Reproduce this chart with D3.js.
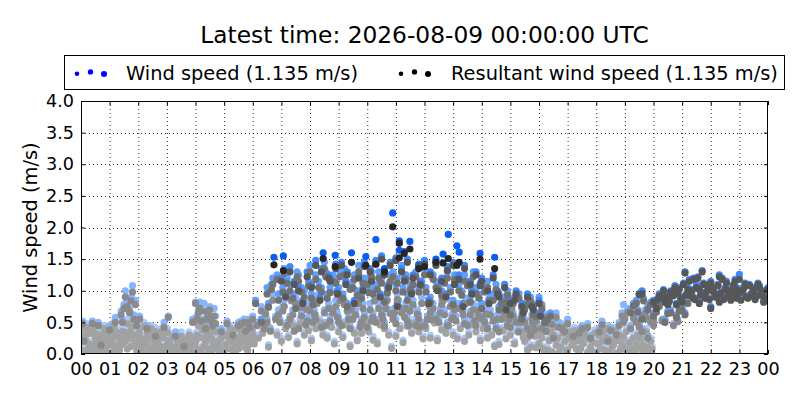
<!DOCTYPE html>
<html><head><meta charset="utf-8">
<script src="https://cdn.jsdelivr.net/npm/d3@7"></script>
<style>body{margin:0;background:#fff}svg{display:block;font-family:"DejaVu Sans",sans-serif}</style>
</head><body><svg id="c" width="800" height="400"></svg>
<script>
// ---- data: each point is [hour, wind speed, resultant wind speed] ----
const hourTicks = d3.range(0, 25);
const hourLabels = ["00","01","02","03","04","05","06","07","08","09","10","11","12","13","14","15","16","17","18","19","20","21","22","23","00"];
const speedTicks = [0,0.5,1,1.5,2,2.5,3,3.5,4];
const titleText = "Latest time: 2026-08-09 00:00:00 UTC";
const seriesNames = ["Wind speed (1.135 m/s)", "Resultant wind speed (1.135 m/s)"];

const dayOldest = [
[0.05,0.45,0.40],[0.15,0.30,0.25],[0.25,0.12,0.08],[0.35,0.38,0.32],[0.45,0.20,0.15],[0.55,0.05,0.02],[0.65,0.28,0.22],[0.75,0.35,0.30],[0.85,0.15,0.10],[0.95,0.40,0.33],
[1.05,0.22,0.18],[1.15,0.50,0.45],[1.25,0.32,0.28],[1.35,0.10,0.06],[1.45,0.42,0.36],[1.55,0.25,0.20],[1.65,0.55,0.48],[1.75,0.18,0.12],[1.85,0.35,0.30],[1.95,0.08,0.04],
[2.05,0.40,0.35],[2.15,0.15,0.10],[2.25,0.30,0.24],[2.35,0.05,0.02],[2.45,0.45,0.40],[2.55,0.22,0.16],[2.65,0.10,0.05],[2.75,0.30,0.25],[2.85,0.02,0.01],[2.95,0.18,0.12],
[3.05,0.25,0.20],[3.15,0.08,0.04],[3.25,0.15,0.10],[3.35,0.30,0.25],[3.45,0.05,0.02],[3.55,0.20,0.15],[3.65,0.12,0.08],[3.75,0.28,0.22],[3.85,0.03,0.01],[3.95,0.18,0.12],
[4.05,0.35,0.30],[4.15,0.10,0.06],[4.25,0.42,0.38],[4.35,0.22,0.18],[4.45,0.05,0.02],[4.55,0.30,0.25],[4.65,0.15,0.10],[4.75,0.25,0.20],[4.85,0.08,0.04],[4.95,0.32,0.28],
[5.05,0.20,0.15],[5.15,0.38,0.32],[5.25,0.12,0.08],[5.35,0.28,0.24],[5.45,0.45,0.40],[5.55,0.22,0.18],[5.65,0.35,0.30],[5.75,0.15,0.10],[5.85,0.40,0.35],[5.95,0.30,0.25],
[6.2,0.30,0.25],[6.6,0.42,0.38],[7.0,0.25,0.20],[7.4,0.50,0.45],[7.8,0.35,0.30],[8.2,0.45,0.40],[8.6,0.30,0.25],[9.0,0.40,0.35],[9.4,0.15,0.12],[9.8,0.38,0.33],
[10.2,0.28,0.22],[10.6,0.45,0.40],[11.0,0.32,0.28],[11.4,0.50,0.44],[11.8,0.40,0.35],[12.2,0.30,0.25],[12.6,0.44,0.38],[13.0,0.35,0.30],[13.4,0.25,0.20],[13.8,0.40,0.35],
[14.2,0.30,0.25],[14.6,0.20,0.15],[15.0,0.35,0.30],
[15.5,0.25,0.20],[15.7,0.40,0.35],[15.9,0.15,0.10],[16.1,0.30,0.25],[16.3,0.10,0.06],[16.5,0.35,0.30],[16.7,0.05,0.02],[16.9,0.25,0.20],[17.1,0.40,0.35],[17.3,0.12,0.08],
[17.5,0.30,0.25],[17.7,0.05,0.02],[17.9,0.22,0.18],[18.1,0.35,0.30],[18.3,0.10,0.06],[18.5,0.28,0.22],[18.7,0.02,0.01],[18.9,0.20,0.15],[19.1,0.08,0.04],[19.3,0.30,0.25],
[19.5,0.15,0.10],[19.7,0.05,0.02],[19.9,0.25,0.20],
[0.02,0.10,0.06],[0.2,0.48,0.42],[0.3,0.02,0.01],[0.5,0.30,0.26],[0.6,0.15,0.10],[0.8,0.45,0.40],[0.9,0.25,0.20],[1.1,0.05,0.02],[1.3,0.20,0.16],[1.5,0.30,0.25],
[1.7,0.40,0.35],[1.9,0.22,0.18],[2.1,0.25,0.20],[2.2,0.50,0.44],[2.4,0.12,0.08],[2.5,0.35,0.30],[2.7,0.20,0.15],[2.8,0.40,0.35],[3.0,0.10,0.06],[3.1,0.28,0.22],
[3.2,0.02,0.01],[3.4,0.20,0.16],[3.5,0.35,0.28],[3.7,0.06,0.03],[3.8,0.22,0.18],[4.0,0.15,0.10],[4.1,0.50,0.45],[4.2,0.02,0.01],[4.4,0.38,0.32],[4.5,0.12,0.08],
[4.6,0.45,0.40],[4.8,0.18,0.14],[5.0,0.08,0.05],[5.2,0.25,0.20],[5.4,0.05,0.02],[5.6,0.40,0.35],[5.8,0.25,0.20],[6.0,0.35,0.30],
[15.6,0.10,0.06],[15.8,0.45,0.40],[16.0,0.20,0.16],[16.2,0.02,0.01],[16.4,0.40,0.35],[16.6,0.18,0.14],[16.8,0.48,0.42],[17.0,0.10,0.06],[17.2,0.25,0.20],[17.4,0.02,0.01],
[17.6,0.35,0.30],[17.8,0.15,0.10],[18.0,0.05,0.02],[18.2,0.25,0.20],[18.4,0.45,0.40],[18.6,0.18,0.14],[18.8,0.35,0.30],[19.0,0.12,0.08],[19.2,0.02,0.01],[19.4,0.20,0.15],
[19.6,0.10,0.06],[19.8,0.15,0.10]
];

const dayOldestExtra = [
[0.08,0.32,0.28],[0.12,0.05,0.03],[0.22,0.38,0.33],[0.28,0.20,0.16],[0.38,0.12,0.09],[0.42,0.42,0.37],[0.52,0.24,0.20],[0.58,0.36,0.31],[0.68,0.08,0.05],[0.72,0.22,0.18],
[0.82,0.30,0.26],[0.88,0.05,0.03],[0.98,0.18,0.14],[1.02,0.36,0.31],[1.08,0.28,0.24],[1.18,0.14,0.10],[1.22,0.40,0.35],[1.28,0.05,0.02],[1.38,0.30,0.26],[1.42,0.18,0.15],
[1.58,0.40,0.34],[1.62,0.12,0.08],[1.72,0.30,0.25],[1.78,0.48,0.42],[1.92,0.35,0.30],[1.98,0.15,0.11],[2.08,0.30,0.25],[2.12,0.05,0.02],[2.28,0.20,0.16],[2.32,0.38,0.32],
[2.42,0.28,0.24],[2.52,0.10,0.07],[2.58,0.42,0.36],[2.62,0.25,0.20],[2.72,0.05,0.03],[2.78,0.15,0.11],[2.88,0.30,0.26],[2.92,0.08,0.05],[3.02,0.40,0.34],[3.12,0.18,0.14],
[3.22,0.32,0.27],[3.28,0.10,0.07],[3.38,0.25,0.20],[3.48,0.12,0.08],[3.58,0.05,0.02],[3.62,0.28,0.23],[3.72,0.15,0.11],[3.78,0.35,0.30],[3.88,0.10,0.07],[3.92,0.30,0.25],
[4.02,0.25,0.20],[4.08,0.05,0.03],[4.18,0.30,0.26],[4.28,0.15,0.11],[4.32,0.48,0.43],[4.42,0.28,0.24],[4.48,0.38,0.33],[4.58,0.08,0.05],[4.62,0.22,0.18],[4.72,0.40,0.35],
[4.78,0.12,0.08],[4.88,0.28,0.24],[4.92,0.02,0.01],[5.02,0.35,0.30],[5.08,0.12,0.08],[5.18,0.28,0.24],[5.22,0.45,0.40],[5.32,0.05,0.02],[5.38,0.20,0.16],[5.48,0.30,0.26],
[5.52,0.12,0.09],[5.62,0.25,0.21],[5.68,0.48,0.43],[5.78,0.35,0.30],[5.82,0.08,0.05],[5.92,0.20,0.16],[5.98,0.42,0.37],
[6.05,0.20,0.16],[6.35,0.38,0.33],[6.55,0.15,0.11],[6.85,0.35,0.30],[7.15,0.45,0.40],[7.25,0.30,0.26],[7.55,0.20,0.16],[7.65,0.55,0.48],[7.95,0.42,0.37],[8.05,0.25,0.21],
[8.35,0.55,0.50],[8.45,0.35,0.30],[8.75,0.48,0.42],[8.85,0.20,0.16],[9.15,0.30,0.26],[9.25,0.52,0.46],[9.55,0.38,0.33],[9.65,0.25,0.21],[9.95,0.55,0.48],[10.05,0.40,0.35],
[10.35,0.20,0.16],[10.45,0.52,0.46],[10.75,0.35,0.30],[10.85,0.12,0.09],[11.15,0.45,0.40],[11.25,0.22,0.18],[11.55,0.38,0.33],[11.65,0.55,0.48],[11.95,0.28,0.24],[12.05,0.45,0.40],
[12.35,0.55,0.49],[12.45,0.25,0.21],[12.75,0.38,0.33],[12.85,0.50,0.44],[13.15,0.28,0.24],[13.25,0.45,0.40],[13.55,0.35,0.30],[13.65,0.52,0.46],[13.95,0.25,0.21],[14.05,0.45,0.40],
[14.35,0.35,0.30],[14.45,0.15,0.12],[14.75,0.42,0.37],[14.85,0.28,0.24],[15.15,0.20,0.16],[15.25,0.40,0.35],[15.45,0.30,0.26],
[15.52,0.42,0.37],[15.62,0.30,0.26],[15.72,0.15,0.11],[15.85,0.32,0.28],[15.95,0.45,0.40],[16.05,0.35,0.30],[16.15,0.12,0.08],[16.25,0.42,0.36],[16.35,0.25,0.21],[16.45,0.05,0.03],
[16.55,0.48,0.43],[16.65,0.30,0.25],[16.75,0.15,0.11],[16.85,0.38,0.33],[16.95,0.08,0.05],[17.05,0.30,0.25],[17.15,0.18,0.14],[17.25,0.42,0.37],[17.35,0.25,0.21],[17.45,0.12,0.08],
[17.55,0.20,0.16],[17.65,0.45,0.40],[17.75,0.28,0.24],[17.85,0.05,0.03],[17.95,0.38,0.33],[18.05,0.20,0.16],[18.15,0.12,0.08],[18.25,0.40,0.35],[18.35,0.30,0.25],[18.45,0.05,0.03],
[18.55,0.15,0.11],[18.65,0.42,0.37],[18.75,0.25,0.21],[18.85,0.10,0.07],[18.95,0.30,0.26],[19.05,0.40,0.35],[19.15,0.22,0.18],[19.25,0.12,0.08],[19.35,0.05,0.03],[19.45,0.35,0.30],
[19.55,0.28,0.24],[19.65,0.18,0.14],[19.75,0.40,0.35],[19.85,0.08,0.05],[19.95,0.12,0.08]
];

const dayOlder = [
[0.1,0.25,0.20],[0.4,0.52,0.48],[0.7,0.18,0.14],[1.0,0.45,0.38],[1.2,0.58,0.50],[1.4,0.68,0.62],[1.5,0.78,0.72],[1.55,1.00,0.90],[1.6,0.85,0.75],[1.7,0.70,0.65],
[1.8,1.08,0.98],[1.85,0.62,0.55],[1.9,0.85,0.78],[2.05,0.60,0.55],[2.3,0.45,0.40],[2.6,0.35,0.28],[2.9,0.50,0.42],[3.05,0.60,0.58],[3.3,0.35,0.28],[3.6,0.18,0.12],
[3.9,0.55,0.50],[4.0,0.82,0.80],[4.1,0.70,0.65],[4.2,0.55,0.52],[4.3,0.80,0.68],[4.4,0.62,0.55],[4.5,0.75,0.70],[4.6,0.50,0.45],[4.7,0.60,0.48],[4.9,0.40,0.35],
[5.1,0.52,0.48],[5.3,0.35,0.30],[5.5,0.50,0.45],[5.7,0.55,0.50],[5.9,0.48,0.42],
[6.0,0.60,0.55],[6.3,0.75,0.68],[6.5,0.55,0.50],[6.7,0.95,0.85],[6.9,0.70,0.62],[7.1,0.85,0.75],[7.3,0.60,0.55],[7.5,0.90,0.80],[7.7,0.65,0.60],[7.9,0.80,0.70],
[8.1,0.55,0.50],[8.3,0.95,0.85],[8.5,0.70,0.65],[8.7,0.60,0.52],[8.9,0.85,0.75],[9.1,0.50,0.45],[9.3,0.75,0.68],[9.5,0.60,0.55],[9.7,0.90,0.80],[9.9,0.65,0.58],
[10.1,0.80,0.70],[10.3,0.55,0.50],[10.5,0.70,0.62],[10.7,0.95,0.85],[10.9,0.60,0.55],[11.1,0.85,0.75],[11.3,0.65,0.58],[11.5,0.75,0.68],[11.7,0.50,0.45],[11.9,0.90,0.80],
[12.1,0.60,0.55],[12.3,0.80,0.72],[12.5,0.55,0.50],[12.7,0.70,0.62],[12.9,0.85,0.75],[13.1,0.60,0.52],[13.3,0.75,0.70],[13.5,0.50,0.45],[13.7,0.80,0.70],[13.9,0.65,0.60],
[14.1,0.55,0.50],[14.3,0.70,0.62],[14.5,0.45,0.40],[14.7,0.60,0.55],[14.9,0.50,0.45],[15.1,0.65,0.60],[15.3,0.40,0.35],[15.5,0.55,0.50],[15.7,0.35,0.30],[15.9,0.60,0.52],
[16.1,0.45,0.40],[16.3,0.55,0.48],[16.5,0.30,0.25],[16.7,0.50,0.42],[16.9,0.40,0.35],[17.2,0.35,0.28],[17.5,0.45,0.40],[17.8,0.30,0.25],[18.1,0.40,0.35],[18.4,0.25,0.20],
[18.7,0.35,0.30],[18.95,0.78,0.50],[19.0,0.60,0.55],[19.2,0.45,0.40],[19.4,0.55,0.50],[19.6,0.40,0.35],[19.8,0.30,0.25],[20.0,0.50,0.45],
[6.4,0.45,0.40],[6.8,0.60,0.55],[7.2,0.50,0.45],[7.4,0.70,0.62],[7.6,0.45,0.40],[7.9,0.58,0.52],[8.0,0.75,0.68],[8.2,0.62,0.55],[8.4,0.48,0.42],[8.8,0.72,0.65],
[9.0,0.58,0.50],[9.2,0.85,0.78],[9.4,0.45,0.40],[9.6,0.70,0.62],[9.8,0.55,0.50],[10.0,0.48,0.42],[10.2,0.65,0.58],[10.4,0.80,0.72],[10.6,0.50,0.44],[10.8,0.70,0.64],
[11.0,0.55,0.48],[11.2,0.72,0.65],[11.4,0.60,0.52],[11.6,0.85,0.78],[11.8,0.62,0.55],[12.0,0.50,0.45],[12.2,0.72,0.65],[12.4,0.62,0.55],[12.6,0.85,0.78],[12.8,0.50,0.45],
[13.0,0.65,0.58],[13.2,0.80,0.72],[13.4,0.55,0.48],[13.6,0.68,0.62],[13.8,0.50,0.45],[14.0,0.62,0.55],[14.2,0.45,0.40],[14.4,0.58,0.52],[14.6,0.40,0.35],[14.8,0.70,0.62],
[15.0,0.48,0.42],[15.2,0.55,0.50],[15.4,0.70,0.62],[15.6,0.45,0.40],[15.8,0.55,0.48],
[19.76,0.60,0.56],[20.0,0.58,0.54],[20.85,0.55,0.51],[20.3,0.55,0.52],[20.7,0.48,0.45]
];

const dayOlderExtra = [
[6.15,0.50,0.45],[6.45,0.70,0.63],[6.62,0.40,0.36],[6.95,0.55,0.50],[7.05,0.75,0.68],[7.35,0.92,0.84],[7.45,0.40,0.36],[7.7,0.82,0.74],[7.85,0.52,0.46],[8.15,0.70,0.63],
[8.25,0.88,0.80],[8.55,0.50,0.45],[8.65,0.80,0.72],[8.95,0.65,0.58],[9.05,0.92,0.84],[9.35,0.62,0.55],[9.45,0.78,0.70],[9.75,0.48,0.43],[9.85,0.80,0.72],[10.15,0.58,0.52],
[10.25,0.92,0.84],[10.55,0.62,0.55],[10.65,0.80,0.72],[10.95,0.72,0.65],[11.05,0.95,0.86],[11.35,0.80,0.72],[11.45,0.50,0.45],[11.75,0.70,0.63],[11.85,0.48,0.43],[12.15,0.85,0.77],
[12.25,0.60,0.54],[12.55,0.72,0.65],[12.65,0.92,0.84],[12.95,0.62,0.55],[13.05,0.78,0.70],[13.35,0.68,0.62],[13.45,0.88,0.80],[13.75,0.58,0.52],[13.85,0.75,0.68],[14.15,0.70,0.63],
[14.25,0.88,0.80],[14.55,0.62,0.55],[14.65,0.78,0.70],[14.95,0.60,0.54],[15.05,0.80,0.72],[15.35,0.55,0.50],[15.45,0.75,0.68],[15.75,0.62,0.55],[15.85,0.42,0.38],[16.15,0.65,0.58],
[16.25,0.40,0.36],[16.45,0.52,0.47],[16.6,0.65,0.58],[16.8,0.45,0.40],[17.0,0.55,0.48],[17.4,0.38,0.33],[17.7,0.48,0.42],[18.2,0.52,0.46],[18.5,0.42,0.37],[18.8,0.50,0.45],
[18.9,0.65,0.60],[19.1,0.72,0.66],[19.3,0.62,0.56],[19.5,0.48,0.43],[19.7,0.70,0.64],[19.9,0.55,0.50],
[1.45,0.55,0.50],[1.65,0.75,0.70],[1.75,0.90,0.84],[1.95,0.50,0.45],[4.05,0.60,0.55],[4.15,0.82,0.72],[4.35,0.45,0.40],[4.45,0.70,0.63],[4.55,0.58,0.52],[4.65,0.72,0.60],
[5.6,0.52,0.48],[5.75,0.40,0.36],[5.85,0.55,0.50],[0.05,0.52,0.48],[0.6,0.50,0.45]
];

const dayRecent = [
[6.1,0.85,0.80],[6.3,0.55,0.50],[6.5,1.05,0.95],[6.7,1.20,1.10],[6.9,0.95,0.85],[7.1,1.35,1.28],[7.3,1.10,1.00],[7.5,0.80,0.72],[7.6,1.25,1.15],
[7.8,1.00,0.90],[8.0,1.40,1.30],[8.1,0.85,0.78],[8.3,1.15,1.05],[8.5,1.45,1.35],[8.6,0.95,0.88],[8.8,1.25,1.15],[9.0,1.05,0.95],[9.2,1.35,1.25],[9.3,0.80,0.75],
[9.5,1.15,1.05],[9.7,1.40,1.30],[9.8,0.95,0.88],[10.0,1.20,1.10],[10.2,1.05,0.95],[10.4,1.30,1.20],[10.6,0.90,0.82],[10.8,1.25,1.15],[11.0,1.10,1.00],[11.2,1.40,1.30],
[11.4,0.95,0.85],[11.6,1.20,1.10],[11.8,1.05,0.98],[12.0,1.35,1.25],[12.2,0.90,0.82],[12.4,1.15,1.05],[12.6,1.00,0.92],[12.8,1.30,1.20],[13.0,0.85,0.78],[13.2,1.10,1.00],
[13.4,1.25,1.15],[13.6,0.90,0.82],[13.8,1.05,0.95],[14.0,0.80,0.72],[14.2,1.15,1.05],[14.4,0.95,0.85],[14.6,0.75,0.70],[14.8,0.90,0.82],[15.0,0.70,0.62],[15.2,0.95,0.88],
[15.4,0.60,0.55],[15.6,0.85,0.78],[15.8,0.70,0.62],[16.0,0.90,0.80],[16.2,0.55,0.50],[16.4,0.65,0.60],
[19.2,0.70,0.65],[19.4,0.85,0.80],[19.6,0.60,0.55],[19.8,0.75,0.70],[20.0,0.65,0.60],[20.2,0.80,0.75],[20.4,0.55,0.50],[20.6,0.70,0.65],[20.8,0.62,0.58],
[21.0,0.75,0.70],[21.2,0.85,0.80],
[6.55,0.80,0.74],[6.65,1.10,1.02],[6.85,1.25,1.18],[7.05,1.05,0.98],[7.2,1.20,1.12],[7.4,0.95,0.88],[7.55,1.30,1.22],[7.7,1.05,0.98],[7.95,1.15,1.08],[8.05,0.95,0.88],
[8.2,1.25,1.18],[8.4,1.05,0.98],[8.55,1.30,1.22],[8.7,1.05,0.97],[8.9,1.20,1.12],[9.05,1.30,1.22],[9.15,0.95,0.88],[9.4,1.10,1.02],[9.55,1.25,1.18],[9.65,1.00,0.93],
[9.85,1.20,1.12],[10.05,1.05,0.97],[10.15,1.30,1.22],[10.35,1.10,1.02],[10.5,1.20,1.12],[10.7,1.05,0.97],[10.9,1.30,1.22],[11.05,1.20,1.12],[11.25,1.05,0.98],[11.35,1.25,1.18],
[11.5,1.10,1.02],[11.7,1.30,1.22],[11.9,1.15,1.08],[12.05,1.05,0.98],[12.3,1.25,1.18],[12.5,1.10,1.02],[12.7,1.20,1.12],[12.9,1.05,0.98],[13.05,1.25,1.18],[13.3,1.00,0.93],
[13.5,1.15,1.08],[13.7,1.30,1.22],[13.9,0.95,0.88],[14.1,1.05,0.98],[14.3,0.90,0.84],[14.5,1.10,1.02],[14.7,0.85,0.80],[14.9,1.00,0.93],[15.1,0.85,0.80],[15.3,0.95,0.88],
[15.5,0.75,0.70],[15.7,0.90,0.84],[15.9,0.65,0.60],[16.1,0.78,0.72],[16.3,0.60,0.55],
[19.3,0.80,0.76],[19.45,0.70,0.66],[19.65,0.88,0.84],[19.9,0.82,0.78],[20.1,0.70,0.66],[20.5,0.68,0.64],[20.9,0.72,0.68],[21.1,0.65,0.62]
];

const dayLatest = [
[7.0,1.20,1.15],[7.3,1.38,1.30],[7.6,1.05,1.00],[7.9,1.30,1.22],[8.2,1.48,1.40],[8.4,1.35,1.30],[8.7,1.20,1.15],[8.9,1.42,1.35],[9.1,1.45,1.40],
[9.3,1.30,1.25],[9.7,1.25,1.20],[9.9,1.45,1.38],[10.1,1.35,1.30],[10.3,1.48,1.42],[10.5,1.55,1.50],[10.6,1.30,1.25],[10.8,1.45,1.40],[11.0,1.52,1.48],[11.2,1.35,1.30],
[11.4,1.50,1.45],[11.6,1.25,1.20],[11.8,1.42,1.38],[12.0,1.48,1.42],[12.2,1.30,1.25],[12.4,1.45,1.40],[12.6,1.20,1.15],[12.8,1.38,1.32],[13.0,1.45,1.40],[13.2,1.25,1.18],
[13.4,1.40,1.35],[13.6,1.15,1.10],[13.8,1.30,1.25],[14.0,1.20,1.15],[14.2,1.05,1.00],[14.4,1.25,1.20],[14.6,0.95,0.90],[14.8,1.10,1.05],[15.0,0.85,0.80],[15.2,1.00,0.95],
[15.4,0.80,0.75],[15.6,0.95,0.90],[15.8,0.75,0.70],[16.0,0.85,0.80],
[7.15,0.95,0.90],[7.45,1.15,1.10],[7.75,0.85,0.80],[8.05,1.10,1.05],[8.35,0.90,0.85],[8.65,1.25,1.20],[8.95,1.00,0.95],[9.25,1.15,1.10],[9.55,0.85,0.80],[9.85,1.05,1.00],
[10.15,1.20,1.15],[10.45,0.95,0.90],[10.75,1.10,1.05],[11.05,0.80,0.75],[11.3,1.20,1.15],[11.55,1.00,0.95],[11.85,1.15,1.10],[12.15,0.85,0.80],[12.45,1.05,1.00],[12.75,0.95,0.90],
[13.05,1.15,1.10],[13.35,0.80,0.75],[13.65,1.00,0.95],[13.95,1.12,1.08],[14.25,0.85,0.80],[14.55,1.00,0.95],[14.85,0.75,0.70],[15.15,0.90,0.85],[15.45,0.70,0.65],[15.75,0.80,0.75],
[16.05,0.65,0.60]
];

const dayLatestNight = [
[19.5,0.96,0.94],[19.6,1.00,0.95],[20.0,0.85,0.82],[20.1,0.75,0.72],[20.3,0.90,0.88],[20.5,0.80,0.78],[20.7,0.95,0.92],[20.9,1.05,1.02],[21.0,0.85,0.82],[21.1,1.30,1.28],
[21.3,0.95,0.92],[21.5,1.10,1.05],[21.6,1.05,1.02],[21.7,1.32,1.30],[21.8,0.90,0.88],[22.0,1.15,1.12],[22.1,1.00,0.98],[22.3,0.85,0.82],[22.4,1.20,1.18],[22.6,0.95,0.92],
[22.8,1.10,1.08],[22.9,0.90,0.88],[23.0,1.26,1.18],[23.1,1.00,0.98],[23.3,0.90,0.88],[23.5,1.05,1.02],[23.6,0.95,0.92],[23.8,1.00,0.98],[23.9,0.90,0.88],[24.0,1.05,1.02],
[20.2,0.95,0.92],[20.4,0.85,0.82],[20.6,1.00,0.98],[20.8,0.80,0.78],[21.2,1.05,1.02],[21.4,0.90,0.88],[21.6,0.82,0.80],[21.9,1.10,1.08],[22.2,0.92,0.90],[22.5,1.05,1.02],
[22.7,0.88,0.85],[23.2,1.12,1.10],[23.4,0.95,0.92],[23.7,1.08,1.05],[23.85,0.85,0.82],[21.4,1.20,1.18],[22.0,0.75,0.72],[22.3,1.25,1.22],[20.85,1.00,0.97],[22.9,1.05,1.02],
[20.15,0.88,0.86],[20.35,1.02,1.00],[20.45,0.92,0.90],[20.55,0.85,0.83],[20.75,1.08,1.05],[20.95,0.90,0.88],[21.05,1.12,1.10],[21.15,0.95,0.93],[21.25,1.18,1.15],[21.35,1.02,1.00],
[21.45,0.88,0.86],[21.55,1.22,1.20],[21.65,0.95,0.93],[21.75,1.12,1.10],[21.85,1.00,0.98],[21.95,0.88,0.86],[22.05,1.05,1.03],[22.15,0.92,0.90],[22.25,1.10,1.08],[22.35,0.98,0.96],
[22.45,0.88,0.86],[22.55,1.15,1.12],[22.65,1.02,1.00],[22.75,0.95,0.93],[22.85,1.18,1.15],[22.95,0.98,0.96],[23.05,0.88,0.85],[23.15,1.05,1.03],[23.25,0.92,0.90],[23.35,1.10,1.08],
[23.45,0.98,0.96],[23.55,0.88,0.86],[23.65,1.12,1.10],[23.75,0.95,0.93],[23.95,1.02,1.00]
];

const dayPeak = [
[6.74,1.53,1.41],[7.07,1.55,1.32],[8.46,1.60,1.51],[8.88,1.56,1.38],[9.45,1.60,1.45],[9.95,1.54,1.40],[10.30,1.81,1.42],[10.89,2.23,2.01],
[11.12,1.79,1.75],[11.12,1.64,1.52],[11.29,1.62,1.59],[11.49,1.78,1.66],[12.65,1.58,1.44],[12.83,1.89,1.51],[13.13,1.71,1.40],[13.21,1.61,1.45],
[13.94,1.59,1.50],[14.45,1.53,1.35],[12.0,1.42,1.38],[12.4,1.50,1.45],[11.8,1.40,1.35],[10.6,1.35,1.30]
];

// shade index per group: 0 oldest (lightest) ... 4 newest (darkest)
const dayGroups = [
  {pts: dayOldest, shade: 0}, {pts: dayOldestExtra, shade: 0},
  {pts: dayOlder, shade: 1}, {pts: dayOlderExtra, shade: 1},
  {pts: dayRecent, shade: 2},
  {pts: dayLatest, shade: 3}, {pts: dayLatestNight, shade: 3},
  {pts: dayPeak, shade: 4}
];
// ---- styles ----
const windColors = ["#a9caff", "#86b6ff", "#5f9fff", "#3d87ff", "#0b5cf2"];
const resColors  = ["#a2a2a2", "#8a8a8a", "#727272", "#575757", "#262626"];

const svg = d3.select("#c");
const L = 81, R = 768, T = 101, B = 354;
const x = d3.scaleLinear().domain([0, 24]).range([L, R]);
const y = d3.scaleLinear().domain([0, 4]).range([B, T]);

svg.append("defs").append("clipPath").attr("id","clip")
  .append("rect").attr("x",L).attr("y",T).attr("width",R-L).attr("height",B-T);

// grid
const grid = svg.append("g").attr("stroke","#000").attr("stroke-width",0.8).attr("stroke-dasharray","1,3");
grid.selectAll(".gx").data(hourTicks.slice(1,-1)).join("line")
  .attr("x1",d=>x(d)+0.5).attr("x2",d=>x(d)+0.5).attr("y1",T).attr("y2",B);
grid.selectAll(".gy").data(speedTicks.slice(1,-1)).join("line")
  .attr("y1",d=>Math.round(y(d))+0.5).attr("y2",d=>Math.round(y(d))+0.5).attr("x1",L).attr("x2",R);

// points: all wind speed first, then resultant wind speed on top
const R0 = 3.6;
const pts = svg.append("g").attr("clip-path","url(#clip)");
dayGroups.forEach(g => {
  pts.append("g").selectAll("circle").data(g.pts).join("circle")
    .attr("cx", d => x(d[0])).attr("cy", d => y(d[1])).attr("r", R0).attr("fill", windColors[g.shade]);
});
dayGroups.forEach(g => {
  pts.append("g").selectAll("circle").data(g.pts).join("circle")
    .attr("cx", d => x(d[0])).attr("cy", d => y(d[2])).attr("r", R0).attr("fill", resColors[g.shade]);
});

// axes (inward ticks, all sides)
const tickFs = "17.6px", fs = "19.4px";
const xa = svg.append("g").attr("transform",`translate(0,${B})`)
  .call(d3.axisBottom(x).tickValues(hourTicks).tickFormat((d,i)=>hourLabels[i]).tickSize(-4).tickPadding(8.5));
const xt = svg.append("g").attr("transform",`translate(0,${T})`)
  .call(d3.axisTop(x).tickValues(hourTicks).tickFormat("").tickSize(-4));
const ya = svg.append("g").attr("transform",`translate(${L},0)`)
  .call(d3.axisLeft(y).tickValues(speedTicks).tickFormat(d3.format(".1f")).tickSize(-4).tickPadding(7));
const yr = svg.append("g").attr("transform",`translate(${R},0)`)
  .call(d3.axisRight(y).tickValues(speedTicks).tickFormat("").tickSize(-4));
[xa,xt,ya,yr].forEach(g=>{
  g.select(".domain").remove();
  g.selectAll("line").attr("stroke","#000");
  g.selectAll("text").attr("fill","#000").style("font-size",tickFs).style("font-family","DejaVu Sans");
});
svg.append("rect").attr("x",L+0.5).attr("y",T+0.5).attr("width",R-L-1).attr("height",B-T-1)
  .attr("fill","none").attr("stroke","#000").attr("stroke-width",1);

// labels
svg.append("text").attr("x",(L+R)/2).attr("y",43).attr("text-anchor","middle")
  .style("font-size","23.3px").text(titleText);
svg.append("text").attr("transform",`translate(37,${(T+B)/2}) rotate(-90)`).attr("text-anchor","middle")
  .style("font-size",fs).text("Wind speed (m/s)");

// legend
const lg = svg.append("g");
lg.append("rect").attr("x",64.5).attr("y",55.5).attr("width",720).attr("height",34)
  .attr("fill","#fff").attr("stroke","#000").attr("stroke-width",1);
const legItems = [{x0:77, tx:126, c:"#0000ff", label:seriesNames[0]},{x0:401, tx:451, c:"#000000", label:seriesNames[1]}];
const dotOff = [[0,1.2,2.3],[13.5,-0.6,2.7],[27,1.6,3.0]];
legItems.forEach(it=>{
  dotOff.forEach(o=>lg.append("circle").attr("cx",it.x0+o[0]).attr("cy",72.5+o[1]).attr("r",o[2]).attr("fill",it.c));
  lg.append("text").attr("x",it.tx).attr("y",79.5).style("font-size",fs).text(it.label);
});
</script></body></html>
